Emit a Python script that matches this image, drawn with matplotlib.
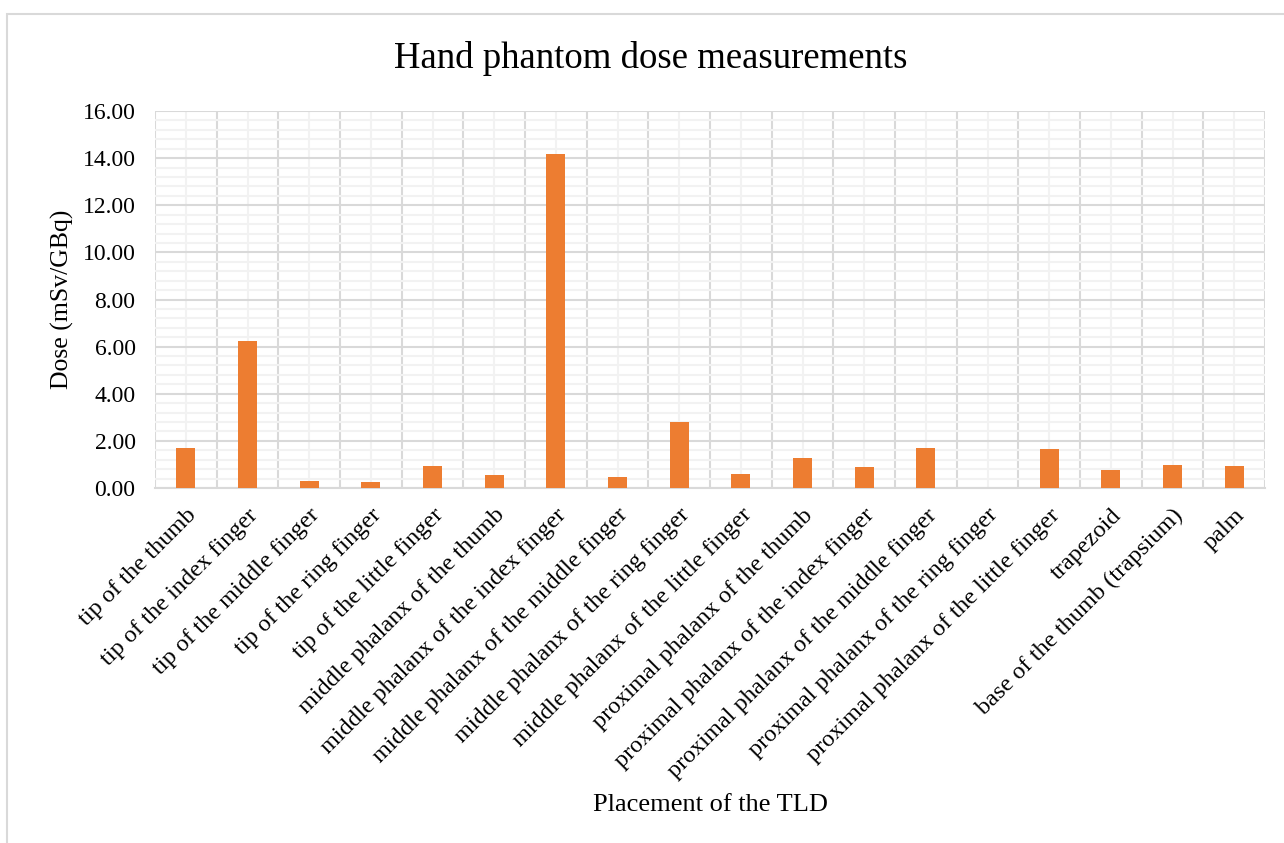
import numpy as np
import matplotlib
matplotlib.use("Agg")
import matplotlib.pyplot as plt
from matplotlib.patches import Rectangle
from matplotlib.ticker import MultipleLocator, FixedLocator

plt.rcParams['font.family'] = ['Liberation Serif', 'DejaVu Serif']

placements = [
    "tip of the thumb",
    "tip of the index finger",
    "tip of the middle finger",
    "tip of the ring finger",
    "tip of the little finger",
    "middle phalanx of the thumb",
    "middle phalanx of the index finger",
    "middle phalanx of the middle finger",
    "middle phalanx of the ring finger",
    "middle phalanx of the little finger",
    "proximal phalanx of the thumb",
    "proximal phalanx of the index finger",
    "proximal phalanx of the middle finger",
    "proximal phalanx of the ring finger",
    "proximal phalanx of the little finger",
    "trapezoid",
    "base of the thumb (trapsium)",
    "palm",
]
dose = [1.68, 6.25, 0.28, 0.24, 0.93, 0.55, 14.16, 0.48, 2.82,
        0.61, 1.27, 0.90, 1.69, 0.0, 1.65, 0.77, 0.97, 0.92]

bar_color = "#ED7D31"
major_grid = "#d9d9d9"
minor_grid = "#f2f2f2"

fig = plt.figure(figsize=(12.84, 8.43), dpi=100)
# light frame round the chart area
fig.patches.append(Rectangle((7 / 1284, -0.1), 1.2, 1 - 14 / 843 + 0.1,
                             transform=fig.transFigure, fill=False,
                             edgecolor="#d9d9d9", linewidth=1.5))

ax = fig.add_axes([155 / 1284, 1 - 488 / 843, 1110 / 1284, 377 / 843])
x = np.arange(len(placements))
ax.bar(x, dose, width=0.31, color=bar_color, zorder=3)

ax.set_xlim(-0.5, len(placements) - 0.5)
ax.set_ylim(0, 16)
ax.yaxis.set_major_locator(MultipleLocator(2))
ax.yaxis.set_minor_locator(MultipleLocator(0.4))
ax.set_yticklabels([f"{v:.2f}" for v in ax.get_yticks()])

ax.set_xticks(x)
ax.xaxis.set_minor_locator(FixedLocator(np.arange(-0.5, len(placements), 1)))
ax.set_xticklabels(placements, rotation=45, ha="right", va="top",
                   rotation_mode="anchor", fontsize=17.5)

ax.grid(which="minor", axis="y", color=minor_grid, linewidth=1.5, zorder=0)
ax.grid(which="major", axis="y", color=major_grid, linewidth=1.5, zorder=1)
ax.grid(which="major", axis="x", color=minor_grid, linewidth=1.5, zorder=0)
ax.grid(which="minor", axis="x", color=major_grid, linewidth=1.5, zorder=1)

for side in ["top", "right", "left"]:
    ax.spines[side].set_visible(False)
ax.spines["bottom"].set_color(major_grid)
ax.spines["bottom"].set_linewidth(1.5)
ax.tick_params(which="both", length=0)
ax.tick_params(axis="y", labelsize=17, pad=14)
ax.tick_params(axis="x", pad=12)

fig.text(62 / 1284, 1 - 299 / 843, "Dose (mSv/GBq)", fontsize=18.5,
         rotation=90, ha="center", va="center")
fig.text(710 / 1284, 1 - 805 / 843, "Placement of the TLD", fontsize=19,
         ha="center", va="center")
fig.text(651 / 1284, 1 - 59 / 843, "Hand phantom dose measurements",
         fontsize=26.5, ha="center", va="center")

fig.savefig("out.png", dpi=100)
